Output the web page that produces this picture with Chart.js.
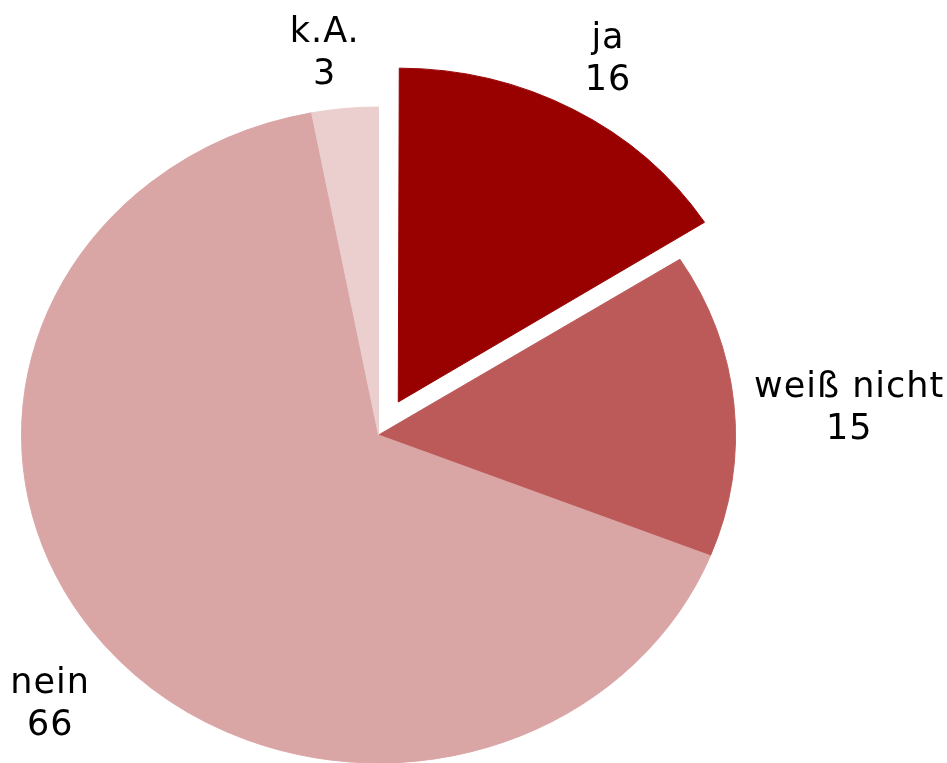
<!DOCTYPE html>
<html>
<head>
<meta charset="utf-8">
<script src="https://cdn.jsdelivr.net/npm/chart.js@4.4.1/dist/chart.umd.min.js"></script>
<style>
  html, body { margin: 0; padding: 0; background: #fff; }
  canvas { display: block; }
</style>
</head>
<body>
<canvas id="pie_canvas" width="947" height="763"></canvas>
<script>
const categories = ['ja', 'weiß nicht', 'nein', 'k.A.'];
const answers = [16, 15, 66, 3];
const sliceColors = ['#990000', '#bc5a5a', '#d9a5a5', '#ebcfcf'];
const explode = [41, 0, 0, 0]; // visible shift in px (Chart.js moves offset/4)

// the original pie is a bit flattened
const squashY = 328 / 357;

// label placement (distance factor from the centre + small nudge)
const labelDist = [1.17, 1.32, 1.25, 1.2];
const labelNudge = [[8, 3], [1, 24], [15, 18], [-14, 20]];
const labelFont = '35px "DejaVu Sans"';
const letterGap = 1;
const lineGap = 42;

const ellipsePlugin = {
  id: 'ellipse',
  beforeDatasetsDraw(chart) {
    const arc = chart.getDatasetMeta(0).data[0];
    const c = chart.ctx;
    c.save();
    c.translate(arc.x, arc.y);
    c.scale(1, squashY);
    c.translate(-arc.x, -arc.y);
  },
  afterDatasetsDraw(chart) {
    chart.ctx.restore();
  }
};

const labelPlugin = {
  id: 'sliceLabels',
  afterDraw(chart) {
    const c = chart.ctx;
    const meta = chart.getDatasetMeta(0);
    meta.data.forEach((arc, i) => {
      const mid = (arc.startAngle + arc.endAngle) / 2;
      const r = arc.outerRadius * labelDist[i];
      const cx = arc.x + Math.cos(mid) * explode[i];
      const cy = arc.y + Math.sin(mid) * explode[i] * squashY;
      const x = cx + Math.cos(mid) * r + labelNudge[i][0] + letterGap / 2;
      const y = cy + Math.sin(mid) * r * squashY + labelNudge[i][1];

      c.save();
      c.font = labelFont;
      c.letterSpacing = letterGap + 'px';
      c.fillStyle = '#000';
      c.textAlign = 'center';
      c.textBaseline = 'alphabetic';
      c.fillText(categories[i], x, y - lineGap / 2);
      c.fillText(String(answers[i]), x, y + lineGap / 2);
      c.restore();
    });
  }
};

const ctx = document.getElementById('pie_canvas');

new Chart(ctx, {
  type: 'pie',
  data: {
    labels: categories,
    datasets: [{
      data: answers,
      backgroundColor: sliceColors,
      borderColor: sliceColors,
      borderWidth: 1,
      offset: explode.map(d => d * 4),
      clip: false
    }]
  },
  options: {
    responsive: false,
    animation: false,
    events: [],
    radius: 357,
    layout: {
      padding: { left: 0, right: 190, top: 107, bottom: 0 }
    },
    plugins: {
      legend: { display: false },
      tooltip: { enabled: false }
    }
  },
  plugins: [ellipsePlugin, labelPlugin]
});
</script>
</body>
</html>
